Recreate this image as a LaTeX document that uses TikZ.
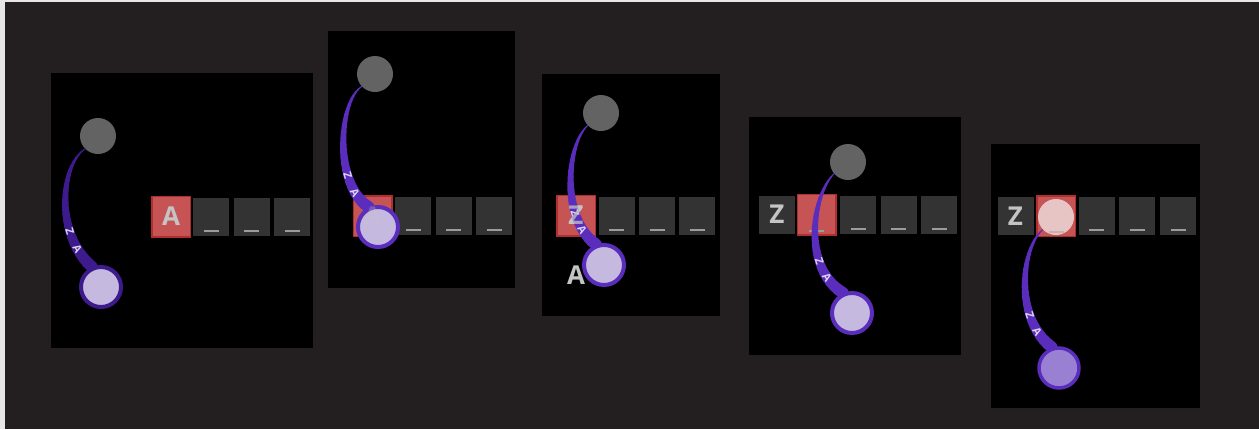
\documentclass[tikz,border=0pt]{standalone}
\usepackage{fontspec}
\setmainfont{Open Sans}
\definecolor{bgc}{HTML}{231F20}
\definecolor{stripc}{HTML}{E6E6E6}
\definecolor{knobc}{HTML}{636363}
\definecolor{tilec}{HTML}{333333}
\definecolor{ulinec}{HTML}{9C9C9C}
\definecolor{redc}{HTML}{C65454}
\definecolor{rededge}{HTML}{B02E2E}
\definecolor{letterc}{HTML}{C4C4C4}
\definecolor{purplec}{HTML}{5A2DBD}
\definecolor{purpledark}{HTML}{3D1B8C}
\definecolor{lavc}{HTML}{C6B9E0}
\definecolor{midpurple}{HTML}{9A80D2}
\definecolor{pinkc}{HTML}{E7C5C5}
\definecolor{labelc}{HTML}{DDD4F4}

% tapered band from #1 to #4 with controls #2,#3, colour #5, name prefix #6
\newcommand\tapercurve[6]{%
  \path (#1) .. controls (#2) and (#3) .. (#4)
    \foreach \k [evaluate=\k as \pp using \k/24] in {0,...,24}{coordinate[pos=\pp] (#6-\k)};
  \foreach \k in {0,...,23}{%
    \pgfmathsetmacro\wd{1.2+0.45*\k}%
    \pgfmathtruncatemacro\nx{\k+1}%
    \draw[draw=#5, line width=\wd pt, line cap=round] (#6-\k) -- (#6-\nx);}%
  \path (#1) .. controls (#2) and (#3) .. (#4)
    node[zlabel, pos=0.71] (#6z) {Z} node[zlabel, pos=0.84] (#6a) {A};
}
% small underline mark at the foot of a tile
\newcommand\uscore[2][]{\draw[uline,#1] ([xshift=-7.5pt,yshift=5pt]#2.south) -- ([xshift=7.5pt,yshift=5pt]#2.south);}

\begin{document}
\begin{tikzpicture}[x=1pt,y=-1pt,
  tile/.style={fill=tilec, minimum width=36pt, minimum height=38pt, inner sep=0pt},
  redtile/.style={fill=redc, draw=rededge, line width=1.5pt, minimum width=38.5pt, minimum height=40.5pt, inner sep=0pt},
  letter/.style={text=letterc, font=\bfseries\fontsize{26}{26}\selectfont, inner sep=0pt},
  uline/.style={draw=ulinec, line width=2pt},
  knob/.style={circle, fill=knobc, minimum size=36pt, inner sep=0pt},
  ball/.style={circle, fill=lavc, draw=purplec, line width=4pt, minimum size=40pt, inner sep=0pt},
  zlabel/.style={sloped, text=labelc, font=\bfseries\fontsize{11}{11}\selectfont, inner sep=0pt},
  panel/.style={fill=black}]
\useasboundingbox (0,0) rectangle (1259,429);
\fill[bgc] (0,0) rectangle (1259,429);
\fill[stripc] (0,0) rectangle (1259,2);
\fill[stripc] (0,0) rectangle (5,429);

% frames
\fill[panel] (51,73) rectangle (313,348);
\fill[panel] (328,31) rectangle (515,288);
\fill[panel] (542,74) rectangle (720,316);
\fill[panel] (749,117) rectangle (961,355);
\fill[panel] (991,144) rectangle (1200,408);

% ---------- frame 1 ----------
\node[redtile] (r1) at (171,216.5) {};
\node[letter] (r1l) at (r1.center) {A};
\node[tile] (t1b) at (211,216.5) {};
\node[tile] (t1c) at (251.7,216.5) {};
\node[tile] (t1d) at (292,216.5) {};
\uscore{t1b}\uscore{t1c}\uscore{t1d}
\node[knob] (g1) at (98,136) {};
\node[ball, draw=none] (p1) at (101,287) {};
\tapercurve{g1.225}{60,165}{55,235}{p1.114}{purpledark}{c1}
\node[ball, draw=purpledark] (p1b) at (p1.center) {};

% ---------- frame 2 ----------
\node[redtile] (r2) at (372.5,216) {};
\node[letter] (r2l) at (r2.center) {A};
\node[tile] (t2b) at (413,216) {};
\node[tile] (t2c) at (453.7,216) {};
\node[tile] (t2d) at (494,216) {};
\uscore{t2b}\uscore{t2c}\uscore{t2d}
\node[knob] (g2) at (375,74) {};
\node[ball, draw=none, fill=none] (p2) at (378,227) {};
\tapercurve{g2.223}{338,102}{334,185}{p2.115}{purplec}{c2}
\node[ball] (p2b) at (p2.center) {};
\node[letter, opacity=0.3] (r2o) at (r2.center) {A};

% ---------- frame 3 ----------
\node[redtile] (r3) at (576,215.5) {};
\node[letter] (r3l) at (r3.center) {Z};
\node[tile] (t3b) at (616.5,215.5) {};
\node[tile] (t3c) at (657,215.5) {};
\node[tile] (t3d) at (697.3,215.5) {};
\uscore{t3b}\uscore{t3c}\uscore{t3d}
\node[knob] (g3) at (601,113) {};
\node[ball, draw=none, fill=none] (p3) at (604,265) {};
\tapercurve{g3.223}{566,145}{561,220}{p3.111}{purplec}{c3}
\node[letter, opacity=0.75] (r3o) at (r3.center) {Z};
\node[letter] (fa) at (576,275) {A};
\node[ball] (p3b) at (p3.center) {};

% ---------- frame 4 ----------
\node[tile] (t4a) at (777,214.5) {};
\node[letter] (t4l) at (t4a.center) {Z};
\node[redtile] (r4) at (816.7,214.5) {};
\node[tile] (t4c) at (858.3,214.5) {};
\node[tile] (t4d) at (898.7,214.5) {};
\node[tile] (t4e) at (939,214.5) {};
\uscore{r4}\uscore{t4c}\uscore{t4d}\uscore{t4e}
\node[knob] (g4) at (848,162) {};
\node[ball, draw=none, fill=none] (p4) at (852,313) {};
\tapercurve{g4.220}{812,195}{802,268}{p4.114}{purplec}{c4}
\node[ball] (p4b) at (p4.center) {};

% ---------- frame 5 ----------
\node[tile] (t5a) at (1015.5,216) {};
\node[letter] (t5l) at (t5a.center) {Z};
\node[redtile] (r5) at (1056.3,216) {};
\node[tile] (t5c) at (1096.7,216) {};
\node[tile] (t5d) at (1137,216) {};
\node[tile] (t5e) at (1178,216) {};
\uscore{t5c}\uscore{t5d}\uscore{t5e}
\node[knob, fill=none] (g5) at (1056,217) {};
\node[ball, draw=none, fill=none] (p5) at (1059,368) {};
\tapercurve{g5.223}{1020,250}{1015,320}{p5.109}{purplec}{c5}
\node[knob, fill=pinkc] (k5) at (g5.center) {};
\uscore[opacity=0.45]{r5}
\node[ball, fill=midpurple, line width=3.5pt] (p5b) at (p5.center) {};
\end{tikzpicture}
\end{document}
